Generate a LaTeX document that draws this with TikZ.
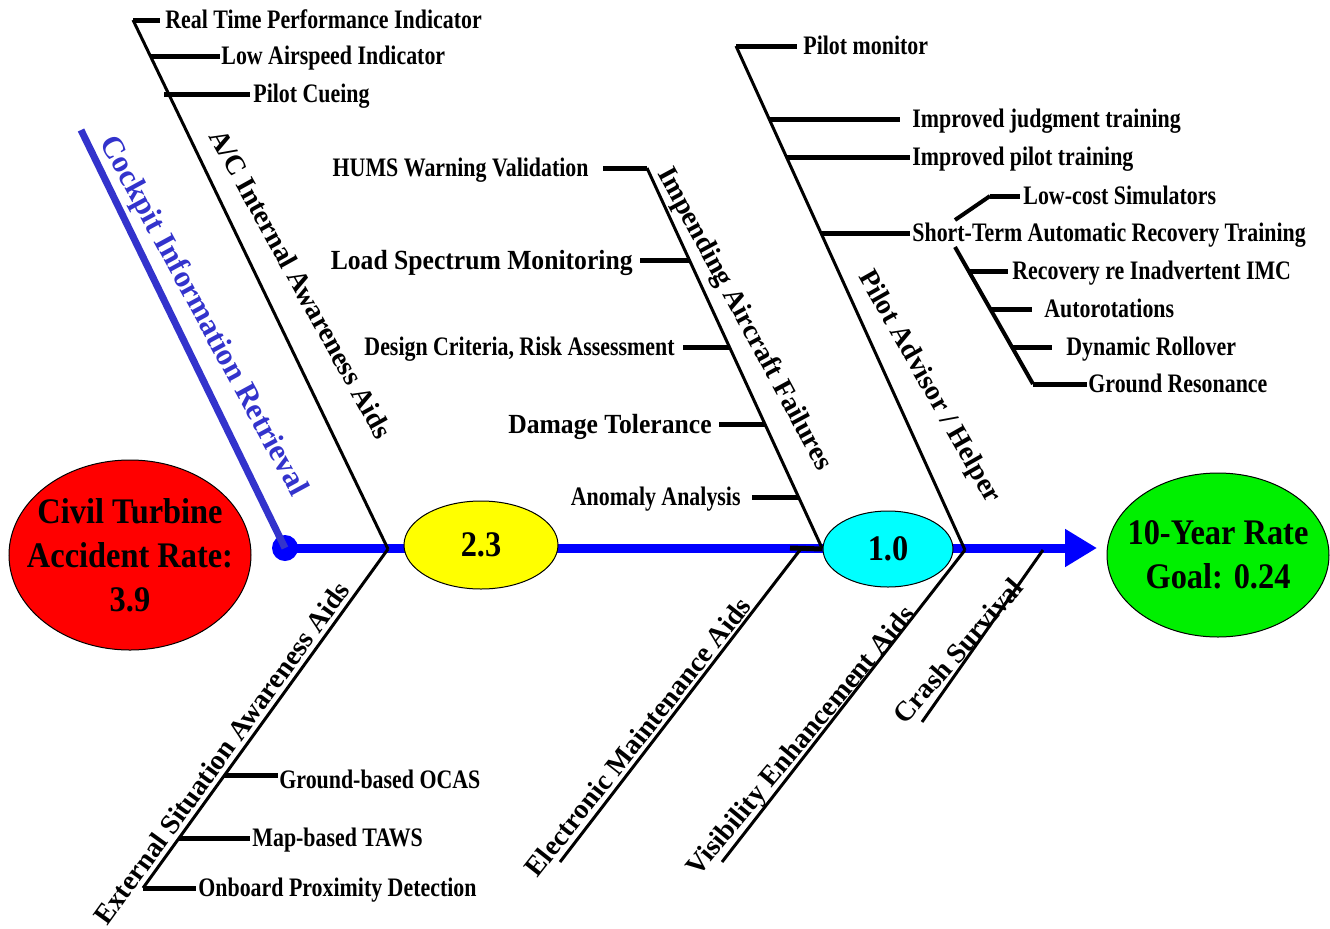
\documentclass[tikz,border=0pt]{standalone}
\usepackage{fontspec}
\setmainfont{Liberation Serif}
\newfontfamily\itemfont{Liberation Serif}[FakeStretch=0.82]
\newfontfamily\bigfont{Liberation Serif}[FakeStretch=0.925]
\newfontfamily\ellfont{Liberation Serif}[FakeStretch=0.9]
\usetikzlibrary{arrows.meta,shapes.geometric}
\definecolor{spineblue}{RGB}{0,0,255}
\definecolor{cirblue}{RGB}{51,51,204}
\definecolor{goalgreen}{RGB}{0,240,0}
\definecolor{ratered}{RGB}{255,0,0}
\definecolor{rateyellow}{RGB}{255,255,0}
\definecolor{ratecyan}{RGB}{0,255,255}
\tikzset{
  bone/.style={line width=1.5pt, black},
  tick/.style={line width=2.5pt, black},
  item/.style={font=\itemfont\bfseries\fontsize{13.35pt}{16pt}\selectfont, inner sep=0pt, text height=8.8pt, text depth=0pt},
  bigitem/.style={font=\bigfont\bfseries\fontsize{13.85pt}{16pt}\selectfont, inner sep=0pt, text height=9.2pt, text depth=0pt},
  bonelabel/.style={font=\bfseries\fontsize{14pt}{17pt}\selectfont, inner sep=0pt, text height=9.3pt, text depth=0pt},
  cirlabel/.style={font=\bfseries\fontsize{15.5pt}{18pt}\selectfont, text=cirblue, inner sep=0pt, text height=10.2pt, text depth=0pt},
  rate/.style={ellipse, draw=black, line width=0.5pt, inner sep=0pt},
  ratetext/.style={font=\ellfont\bfseries\fontsize{18pt}{22pt}\selectfont, align=center, inner sep=0pt},
}
\begin{document}
\begin{tikzpicture}[x=0.5pt,y=-0.5pt]
\useasboundingbox (0,0) rectangle (1330,928);

% ---------- spine ----------
\node[circle, fill=spineblue, inner sep=0pt, minimum size=13pt] (dot) at (285,548) {};
\coordinate (tip) at (1097,548);
\draw[line width=4.5pt, spineblue, -{Triangle[width=18pt,length=16pt]}] (dot.center) -- (tip);

% ---------- cockpit information retrieval ----------
\coordinate (cirTop) at (81,130);
\draw[line width=3.5pt, cirblue] (cirTop) -- (dot.center);
\node[cirlabel, rotate=-61.5] (cirLabel) at (205,315) {Cockpit Information Retrieval};

% ---------- A/C internal awareness aids ----------
\coordinate (acTop) at (133,20);
\coordinate (j1) at (388,549);
\draw[bone] (acTop) -- (j1);
\coordinate (ac1) at (150,56);
\coordinate (ac2) at (164,94);
\node[item, anchor=west] (rtpi) at (165,20) {Real Time Performance Indicator};
\node[item, anchor=west] (lai) at (221,56) {Low Airspeed Indicator};
\node[item, anchor=west] (pcue) at (253,94) {Pilot Cueing};
\draw[tick, shorten >=2.5pt] (acTop) -- (rtpi.west);
\draw[tick, shorten >=0.5pt] (ac1) -- (lai.west);
\draw[tick, shorten >=1.5pt] (ac2) -- (pcue.west);
\node[bonelabel, rotate=-61] (acLabel) at (301,284) {A/C Internal Awareness Aids};

% ---------- external situation awareness aids ----------
\coordinate (exBot) at (143,888);
\draw[bone] (j1) -- (exBot);
\coordinate (ex1) at (224,775);
\coordinate (ex2) at (179,838);
\node[item, anchor=west] (gbo) at (279,780) {Ground-based OCAS};
\node[item, anchor=west] (mbt) at (252,838) {Map-based TAWS};
\node[item, anchor=west] (opd) at (198,888) {Onboard Proximity Detection};
\draw[tick, shorten >=0.5pt] (ex1) -- (gbo.west |- ex1);
\draw[tick, shorten >=1pt] (ex2) -- (mbt.west);
\draw[tick, shorten >=1pt] (exBot) -- (opd.west);
\node[bonelabel, rotate=54.1] (exLabel) at (222,753) {External Situation Awareness Aids};

% ---------- impending aircraft failures ----------
\coordinate (impTop) at (647,168);
\coordinate (impBot) at (822,548);
\draw[bone] (impTop) -- (impBot);
\coordinate (imp2) at (689,260);
\coordinate (imp3) at (729,347);
\coordinate (imp4) at (765,424);
\coordinate (imp5) at (798,497);
\node[item, anchor=east] (hums) at (589,168) {HUMS Warning Validation};
\node[bigitem, anchor=east] (lsm) at (633,260) {Load Spectrum Monitoring};
\node[item, anchor=east] (dcra) at (675,347) {Design Criteria, Risk Assessment};
\node[bigitem, anchor=east] (dtol) at (712,424) {Damage Tolerance};
\node[item, anchor=east] (anom) at (741,497) {Anomaly Analysis};
\draw[tick, shorten <=7pt] (hums.east) -- (impTop);
\draw[tick, shorten <=3.5pt] (lsm.east) -- (imp2);
\draw[tick, shorten <=4pt] (dcra.east) -- (imp3);
\draw[tick, shorten <=3.5pt] (dtol.east) -- (imp4);
\draw[tick, shorten <=5.5pt] (anom.east) -- (imp5);
\node[bonelabel, rotate=-61.6] (impLabel) at (746,318) {Impending Aircraft Failures};

% ---------- electronic maintenance aids ----------
\coordinate (elTop) at (800,550);
\coordinate (elBot) at (560,862);
\draw[bone] (elBot) -- (elTop);
\node[bonelabel, rotate=51.7] (elLabel) at (638,737) {Electronic Maintenance Aids};

% ---------- pilot advisor / helper ----------
\coordinate (paTop) at (736,46);
\coordinate (paBot) at (965,550);
\draw[bone] (paTop) -- (paBot);
\coordinate (pa1) at (769,119);
\coordinate (pa2) at (786,157);
\coordinate (pa3) at (821,233);
\node[item, anchor=west] (pmon) at (803,46) {Pilot monitor};
\node[item, anchor=west] (ijt) at (912,119) {Improved judgment training};
\node[item, anchor=west] (ipt) at (912,157) {Improved pilot training};
\node[item, anchor=west] (start) at (912,233) {Short-Term Automatic Recovery Training};
\draw[tick, shorten >=3pt] (paTop) -- (pmon.west);
\draw[tick, shorten >=6pt] (pa1) -- (ijt.west);
\draw[tick, shorten >=1pt] (pa2) -- (ipt.west);
\draw[tick, shorten >=1pt] (pa3) -- (start.west);
\node[bonelabel, rotate=-60.5] (paLabel) at (931,386) {Pilot Advisor / Helper};

% sub-branches of short-term training
\coordinate (ls1) at (955,220);
\coordinate (ls2) at (990,196);
\node[item, anchor=west] (lcs) at (1023,196) {Low-cost Simulators};
\draw[line width=2pt] (ls1) -- (ls2);
\draw[tick, shorten >=1.5pt] (ls2) -- (lcs.west);
\coordinate (sb1) at (955,247);
\coordinate (sb2) at (1033,384);
\draw[line width=2pt] (sb1) -- (sb2);
\coordinate (sb3) at (968,271);
\coordinate (sb4) at (990,309);
\coordinate (sb5) at (1012,347);
\node[item, anchor=west] (rimc) at (1012,271) {Recovery re Inadvertent IMC};
\node[item, anchor=west] (auto) at (1044,309) {Autorotations};
\node[item, anchor=west] (dyro) at (1066,347) {Dynamic Rollover};
\node[item, anchor=west] (gres) at (1088,384) {Ground Resonance};
\draw[tick, shorten >=2pt] (sb3) -- (rimc.west);
\draw[tick, shorten >=6pt] (sb4) -- (auto.west);
\draw[tick, shorten >=7pt] (sb5) -- (dyro.west);
\draw[tick, shorten >=0.5pt] (sb2) -- (gres.west);

% ---------- visibility enhancement aids ----------
\coordinate (viBot) at (722,862);
\draw[bone] (viBot) -- (paBot);
\node[bonelabel, rotate=50.3] (viLabel) at (800,740) {Visibility Enhancement Aids};

% ---------- crash survival ----------
\coordinate (crTop) at (1043,550);
\coordinate (crBot) at (922,722);
\draw[bone] (crBot) -- (crTop);
\node[bonelabel, rotate=49] (crLabel) at (958,651) {Crash Survival};

% ---------- rate ellipses ----------
\node[rate, fill=ratered, minimum width=121pt, minimum height=95pt] (rate0) at (130,555) {};
\node[ratetext] (rate0t) at (rate0) {Civil Turbine\\Accident Rate:\\3.9};
\node[rate, fill=rateyellow, minimum width=77pt, minimum height=44pt] (rate1) at (481,545) {};
\node[ratetext] (rate1t) at (rate1) {2.3};
\node[rate, fill=ratecyan, minimum width=65pt, minimum height=38pt] (rate2) at (888,549) {};
\node[ratetext] (rate2t) at (rate2) {1.0};
\node[rate, fill=goalgreen, minimum width=111pt, minimum height=82pt] (goal) at (1218,555) {};
\node[ratetext] (goalt) at (goal) {10-Year Rate\\Goal: 0.24};

% spine tick at electronic maintenance junction
\coordinate (st1) at (790,548);
\draw[tick] (st1) -- (rate2.west);
\end{tikzpicture}
\end{document}
